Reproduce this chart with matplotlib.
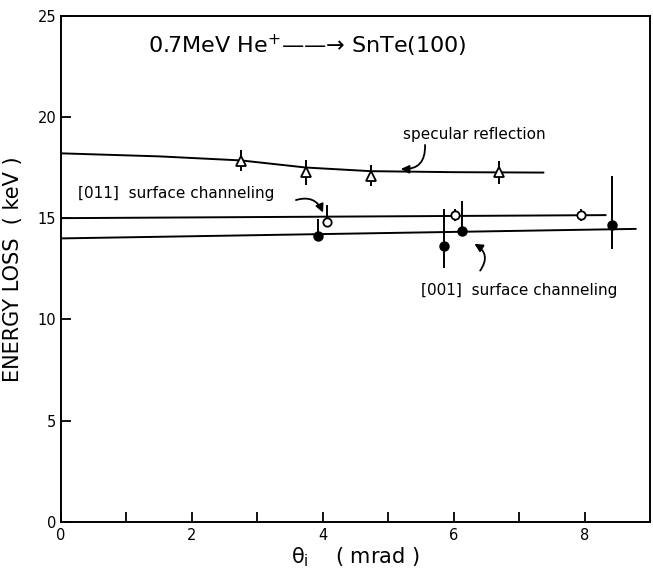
import numpy as np
import matplotlib
matplotlib.use("Agg")
import matplotlib.pyplot as plt

# specular reflection (open triangles)
spec_x = [2.75, 3.74, 4.73, 6.69]
spec_y = [17.83, 17.26, 17.09, 17.26]
spec_err = [0.52, 0.6, 0.52, 0.57]
spec_line_x = [0.0, 1.5, 2.75, 3.74, 4.73, 6.0, 7.37]
spec_line_y = [18.2, 18.05, 17.85, 17.5, 17.32, 17.27, 17.25]

# [011] surface channeling (open circles)
ch011_x = [4.06, 6.02, 7.95]
ch011_y = [14.8, 15.16, 15.16]
ch011_err_lo = [0.0, 0.3, 0.3]
ch011_err_hi = [0.85, 0.3, 0.3]
ch011_line_x = [0.0, 8.32]
ch011_line_y = [15.0, 15.15]

# [001] surface channeling (filled circles)
ch001_x = [3.93, 5.85, 6.13, 8.42]
ch001_y = [14.14, 13.65, 14.35, 14.67]
ch001_err_lo = [0.0, 1.1, 0.0, 1.2]
ch001_err_hi = [0.8, 1.8, 1.5, 2.4]
ch001_line_x = [0.0, 8.78]
ch001_line_y = [14.0, 14.47]

fig = plt.figure(figsize=(6.53, 5.69), dpi=100)
ax = fig.add_axes([0.0934, 0.0826, 0.902, 0.89])

# fitted curves
ax.plot(spec_line_x, spec_line_y, color="black", lw=1.4)
ax.plot(ch011_line_x, ch011_line_y, color="black", lw=1.4)
ax.plot(ch001_line_x, ch001_line_y, color="black", lw=1.4)

# data points with error bars
ax.errorbar(spec_x, spec_y, yerr=spec_err, fmt="^", mfc="white", mec="black",
            ecolor="black", ms=6.5, mew=1.3, elinewidth=1.4, capsize=0, zorder=3)
ax.errorbar(ch011_x, ch011_y, yerr=[ch011_err_lo, ch011_err_hi], fmt="o",
            mfc="white", mec="black", ecolor="black", ms=6, mew=1.3,
            elinewidth=1.4, capsize=0, zorder=3)
ax.errorbar(ch001_x, ch001_y, yerr=[ch001_err_lo, ch001_err_hi], fmt="o",
            mfc="black", mec="black", ecolor="black", ms=6.5,
            elinewidth=1.4, capsize=0, zorder=3)

# axes setup
ax.set_xlim(0, 9)
ax.set_ylim(0, 25)
ax.set_xticks([0, 2, 4, 6, 8])
ax.set_xticks([1, 3, 5, 7], minor=True)
ax.set_yticks([0, 5, 10, 15, 20, 25])
ax.tick_params(axis="both", which="both", direction="in", length=7, width=1.3,
               labelsize=10.5)
ax.tick_params(axis="x", which="both", top=False, pad=4)
ax.tick_params(axis="y", right=False)
for s in ax.spines.values():
    s.set_linewidth(1.4)

ax.set_xlabel("\u03b8$_{\\rm i}$    ( mrad )", fontsize=15, labelpad=2)
ax.set_ylabel("ENERGY LOSS  ( keV )", fontsize=15, labelpad=10)

# labels
ax.text(1.33, 23.5, "0.7MeV He$^{+}$\u2014\u2014\u2192 SnTe(100)", fontsize=16,
        va="center", ha="left")
ax.text(5.22, 19.15, "specular reflection", fontsize=11, va="center")
ax.text(0.26, 16.2, "[011]  surface channeling", fontsize=11, va="center")
ax.text(5.5, 11.45, "[001]  surface channeling", fontsize=11, va="center")

arrow = dict(arrowstyle="-|>", color="black", lw=1.3, mutation_scale=12)
ax.annotate("", xy=(5.15, 17.44), xytext=(5.56, 18.75),
            arrowprops=dict(arrow, connectionstyle="arc3,rad=-0.6"))
ax.annotate("", xy=(4.02, 15.15), xytext=(3.55, 15.85),
            arrowprops=dict(arrow, connectionstyle="arc3,rad=-0.5"))
ax.annotate("", xy=(6.28, 13.8), xytext=(6.38, 12.3),
            arrowprops=dict(arrow, connectionstyle="arc3,rad=0.6"))

fig.savefig("out.png", dpi=100)
